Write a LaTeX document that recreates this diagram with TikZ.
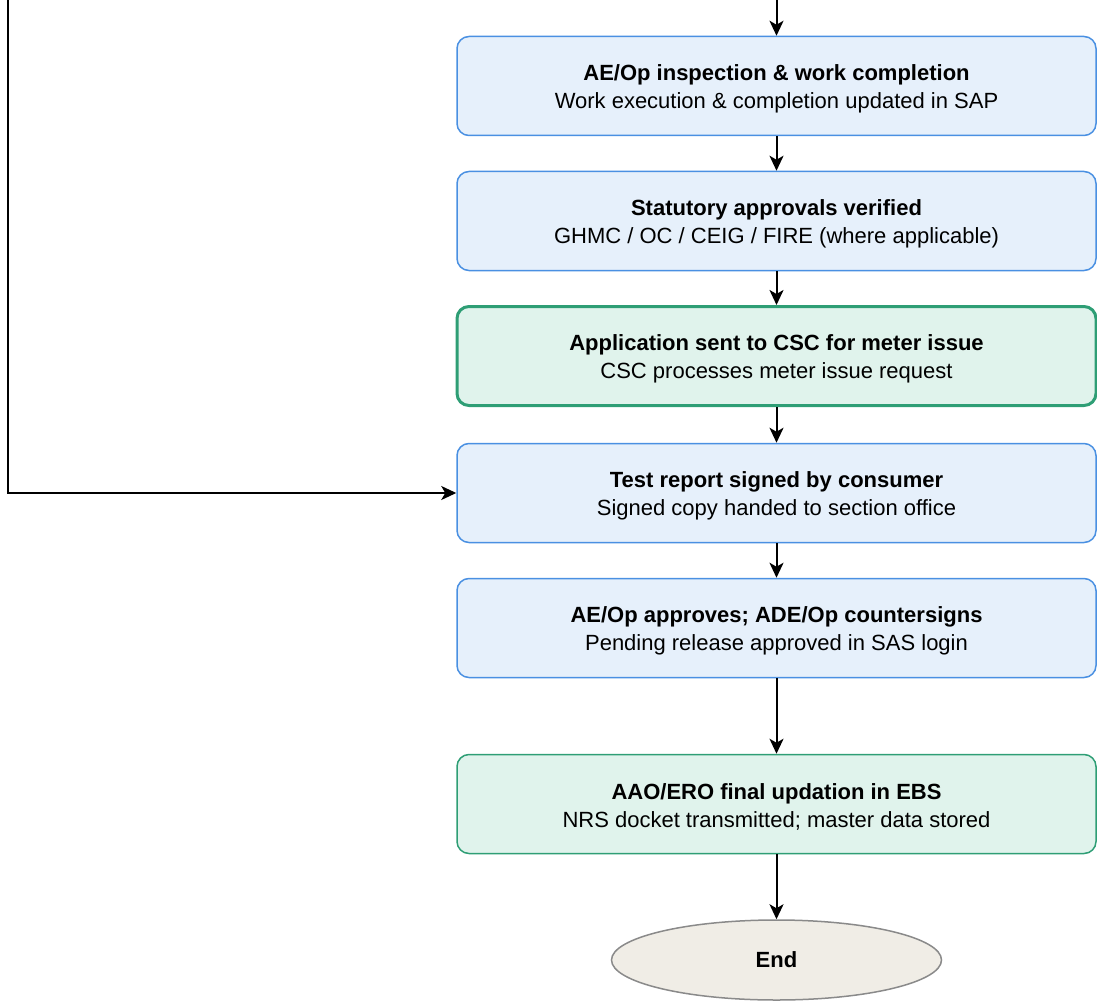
\documentclass[tikz,border=0pt]{standalone}
\usepackage{fontspec}
\setmainfont{Liberation Sans}
\usetikzlibrary{arrows.meta,shapes.geometric}
\definecolor{bluefill}{HTML}{E6F0FB}
\definecolor{blueline}{HTML}{4A90E2}
\definecolor{greenfill}{HTML}{E0F3EC}
\definecolor{greenline}{HTML}{2E9E75}
\definecolor{endfill}{HTML}{F0EDE6}
\definecolor{endline}{HTML}{8A8A8A}
\tikzset{
  x=1pt, y=-1pt,
  boxbase/.style={rectangle, rounded corners=12pt, minimum width=639pt, minimum height=99pt, inner sep=0pt},
  bluebox/.style={boxbase, fill=bluefill, draw=blueline, line width=1.5pt},
  greenbox/.style={boxbase, fill=greenfill, draw=greenline, line width=1.5pt},
  greenboxthick/.style={boxbase, fill=greenfill, draw=greenline, line width=3pt},
  boxtext/.style={align=center, inner sep=0pt, font=\fontsize{22}{27.5}\selectfont},
  endnode/.style={ellipse, fill=endfill, draw=endline, line width=1.5pt, minimum width=330pt,
    minimum height=80pt, inner sep=0pt, font=\fontsize{22}{27}\selectfont\bfseries},
  flow/.style={line width=2pt, -{Stealth[length=15pt,width=14pt,inset=4pt]}}
}
\begin{document}
\begin{tikzpicture}
\useasboundingbox (0,0) rectangle (1097,1003);
\node[bluebox] (b1) at (776.5,86) {};
\node[bluebox] (b2) at (776.5,221) {};
\node[greenboxthick] (b3) at (776.5,356) {};
\node[bluebox] (b4) at (776.5,493) {};
\node[bluebox] (b5) at (776.5,628) {};
\node[greenbox] (b6) at (776.5,804) {};
\node[boxtext] (b1t) at ([yshift=-3pt]b1.center) {\textbf{AE/Op inspection \& work completion}\\Work execution \& completion updated in SAP};
\node[boxtext] (b2t) at ([yshift=-3pt]b2.center) {\textbf{Statutory approvals verified}\\GHMC / OC / CEIG / FIRE (where applicable)};
\node[boxtext] (b3t) at ([yshift=-3pt]b3.center) {\textbf{Application sent to CSC for meter issue}\\CSC processes meter issue request};
\node[boxtext] (b4t) at ([yshift=-3pt]b4.center) {\textbf{Test report signed by consumer}\\Signed copy handed to section office};
\node[boxtext] (b5t) at ([yshift=-3pt]b5.center) {\textbf{AE/Op approves; ADE/Op countersigns}\\Pending release approved in SAS login};
\node[boxtext] (b6t) at ([yshift=-3pt]b6.center) {\textbf{AAO/ERO final updation in EBS}\\NRS docket transmitted; master data stored};
\node[endnode] (e) at (776.5,960) {End};
\coordinate (top) at (776.5,0);
\coordinate (lefttop) at (8,0);
\draw[flow] (top) -- (b1);
\draw[flow] (b1) -- (b2);
\draw[flow] (b2) -- (b3);
\draw[flow] (b3) -- (b4);
\draw[flow] (b4) -- (b5);
\draw[flow] (b5) -- (b6);
\draw[flow] (b6) -- (e);
\draw[flow] (lefttop) |- (b4.west);
\end{tikzpicture}
\end{document}
